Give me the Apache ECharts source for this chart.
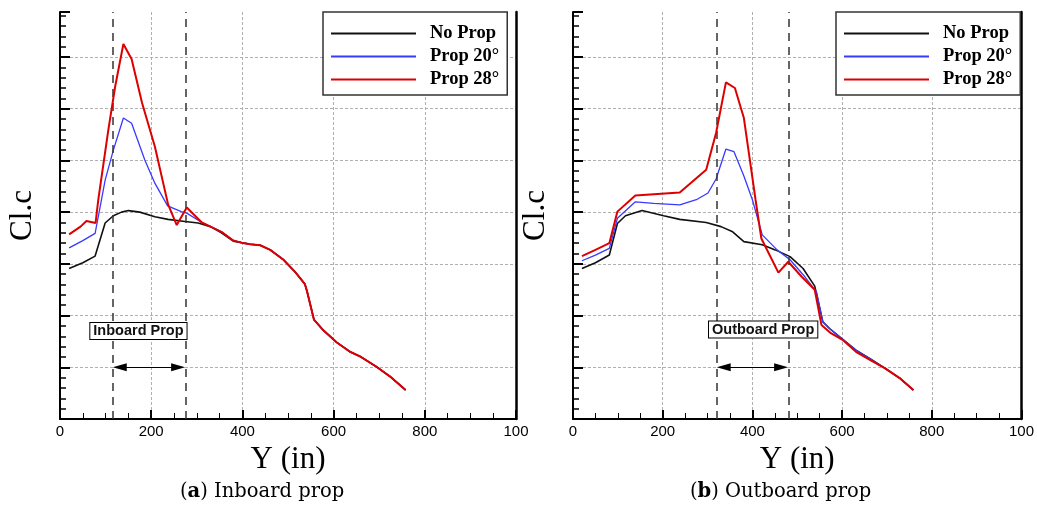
<!DOCTYPE html>
<html><head><meta charset="utf-8">
<script src="https://cdn.jsdelivr.net/npm/echarts@6/dist/echarts.min.js"></script>
<style>html,body{margin:0;padding:0;background:#fff}#c{width:1037px;height:509px}</style>
</head><body><div id="c"></div>
<script>
// ---------- data ----------
const seriesNames = ['No Prop', 'Prop 20°', 'Prop 28°'];
const xTickValues = [0, 200, 400, 600, 800, 1000];

// (a) Inboard prop
const inbNoPropX = [20, 50, 77, 99, 117, 135, 150, 175, 208, 237, 274, 303, 330, 354, 380, 398, 417, 439, 461, 490, 515, 537, 542, 557, 577, 607, 636, 658, 694, 724, 758];
const inbNoPropY = [2.91, 3.02, 3.15, 3.79, 3.93, 4.00, 4.03, 4.00, 3.91, 3.86, 3.82, 3.79, 3.72, 3.60, 3.44, 3.41, 3.38, 3.36, 3.27, 3.08, 2.85, 2.61, 2.46, 1.92, 1.72, 1.48, 1.30, 1.21, 1.01, 0.82, 0.56];
const inbProp20X = [20, 50, 77, 91, 99, 117, 139, 157, 186, 208, 236, 266, 278, 311, 330, 354, 380, 398, 417, 439, 461, 490, 515, 537, 542, 557, 577, 607, 636, 658, 694, 724, 758];
const inbProp20Y = [3.31, 3.45, 3.59, 4.24, 4.62, 5.20, 5.82, 5.72, 5.01, 4.56, 4.12, 4.01, 3.98, 3.80, 3.72, 3.62, 3.45, 3.41, 3.38, 3.36, 3.27, 3.08, 2.85, 2.61, 2.46, 1.92, 1.72, 1.48, 1.30, 1.21, 1.01, 0.82, 0.56];
const inbProp28X = [20, 45, 58, 78, 84, 106, 121, 139, 157, 180, 208, 237, 256, 278, 311, 330, 354, 380, 398, 417, 439, 461, 490, 515, 537, 542, 557, 577, 607, 636, 658, 694, 724, 758];
const inbProp28Y = [3.57, 3.72, 3.83, 3.79, 4.24, 5.59, 6.43, 7.25, 6.96, 6.11, 5.27, 4.15, 3.75, 4.09, 3.80, 3.72, 3.62, 3.45, 3.41, 3.38, 3.36, 3.27, 3.08, 2.85, 2.61, 2.46, 1.92, 1.72, 1.48, 1.30, 1.21, 1.01, 0.82, 0.56];

// (b) Outboard prop
const outNoPropX = [20, 50, 81, 99, 117, 154, 202, 238, 297, 330, 356, 381, 422, 451, 484, 513, 539, 557, 572, 600, 631, 665, 696, 730, 759];
const outNoPropY = [2.91, 3.02, 3.17, 3.78, 3.93, 4.03, 3.93, 3.86, 3.80, 3.72, 3.62, 3.43, 3.37, 3.27, 3.14, 2.91, 2.57, 1.88, 1.75, 1.55, 1.33, 1.15, 0.98, 0.78, 0.56];
const outProp20X = [20, 50, 81, 99, 139, 180, 238, 275, 301, 319, 341, 359, 381, 400, 422, 455, 484, 517, 543, 557, 572, 600, 631, 665, 696, 730, 759];
const outProp20Y = [3.06, 3.17, 3.30, 3.88, 4.20, 4.17, 4.14, 4.24, 4.37, 4.64, 5.22, 5.17, 4.70, 4.24, 3.56, 3.27, 3.08, 2.75, 2.46, 1.88, 1.75, 1.55, 1.33, 1.15, 0.98, 0.78, 0.56];
const outProp28X = [20, 50, 81, 99, 139, 238, 297, 319, 341, 361, 381, 407, 420, 458, 480, 510, 539, 554, 575, 601, 631, 665, 696, 730, 759];
const outProp28Y = [3.15, 3.27, 3.40, 4.01, 4.32, 4.38, 4.82, 5.53, 6.51, 6.40, 5.82, 4.24, 3.49, 2.83, 3.04, 2.75, 2.50, 1.82, 1.66, 1.53, 1.30, 1.13, 0.98, 0.78, 0.56];

// propeller spans (x, in)
const inbPropSpan = [115, 275];
const outPropSpan = [320, 480];
const propLabels = ['Inboard Prop', 'Outboard Prop'];
const captions = [['a', 'Inboard prop'], ['b', 'Outboard prop']];

// ---------- chart ----------
const zip = (xs, ys) => xs.map((x, i) => [x, ys[i]]);
const colors = ['#111111', '#3a3aff', '#dd0000'];
const widths = [1.6, 1.3, 2];
const YMAX = 7.87;
const SERIF = '"Liberation Serif", "Times New Roman", serif';
const CAPSERIF = '"DejaVu Serif", "Liberation Serif", serif';
const SANS = '"Liberation Sans", Arial, sans-serif';

function xAxisFor(gi) {
  return {
    type: 'value', gridIndex: gi, min: 0, max: 1000, interval: 200,
    name: 'Y (in)', nameLocation: 'middle', nameGap: 20,
    nameTextStyle: { fontFamily: SERIF, fontSize: 31, color: '#000' },
    axisLine: { onZero: false, lineStyle: { color: '#000', width: 2 } },
    axisTick: { inside: true, length: 9, lineStyle: { color: '#000', width: 2 } },
    minorTick: { show: true, splitNumber: 4, length: 6, lineStyle: { color: '#000', width: 1 } },
    axisLabel: { margin: 5, fontFamily: SANS, fontSize: 15, color: '#000',
      formatter: v => (v === 1000 ? '100' : String(v)) },
    splitLine: { show: true, lineStyle: { color: '#b0b0b0', type: [3, 2], width: 1 } }
  };
}
function yAxisFor(gi) {
  return {
    type: 'value', gridIndex: gi, min: 0, max: YMAX, interval: 1,
    name: 'Cl.c', nameLocation: 'middle', nameGap: 22, nameRotate: 90,
    nameTextStyle: { fontFamily: SERIF, fontSize: 31, color: '#000' },
    axisLine: { show: true, onZero: false, lineStyle: { color: '#000', width: 2 } },
    axisTick: { inside: true, length: 10, lineStyle: { color: '#000', width: 2 } },
    minorTick: { show: true, splitNumber: 5, length: 6, lineStyle: { color: '#000', width: 1.5 } },
    axisLabel: { show: false },
    splitLine: { show: true, showMaxLine: false, lineStyle: { color: '#b0b0b0', type: [3, 2], width: 1 } }
  };
}
function rightAxisFor(gi) {
  return {
    type: 'value', gridIndex: gi, min: 0, max: YMAX, position: 'right',
    axisLine: { show: true, onZero: false, lineStyle: { color: '#000', width: 2.5 } },
    axisTick: { show: false }, axisLabel: { show: false }, splitLine: { show: false }
  };
}

const panels = [
  { xs: [inbNoPropX, inbProp20X, inbProp28X], ys: [inbNoPropY, inbProp20Y, inbProp28Y], span: inbPropSpan, labelAt: [172, 1.70] },
  { xs: [outNoPropX, outProp20X, outProp28X], ys: [outNoPropY, outProp20Y, outProp28Y], span: outPropSpan, labelAt: [424, 1.73] }
];

const series = [];
panels.forEach((p, gi) => {
  seriesNames.forEach((name, si) => {
    const s = {
      type: 'line', name, xAxisIndex: gi, yAxisIndex: gi * 2,
      data: zip(p.xs[si], p.ys[si]), symbol: 'none', showSymbol: false, silent: true,
      color: colors[si], lineStyle: { color: colors[si], width: widths[si] }, z: 3 + si
    };
    if (si === 0) {
      s.markLine = {
        silent: true, symbol: 'none', animation: false,
        label: { show: false },
        lineStyle: { color: '#333', type: [8, 6], width: 1.5 },
        data: [
          { xAxis: p.span[0] }, { xAxis: p.span[1] },
          [
            { coord: [p.span[0] + 16, 1], symbol: 'triangle', symbolSize: [8, 14],
              lineStyle: { color: '#000', type: 'solid', width: 1 } },
            { coord: [p.span[1] - 16, 1], symbol: 'triangle', symbolSize: [8, 14] }
          ]
        ]
      };
      s.markPoint = {
        silent: true, symbol: 'rect', symbolSize: 0, animation: false,
        data: [{ coord: p.labelAt, value: propLabels[gi] }],
        label: {
          show: true, position: 'inside', formatter: propLabels[gi],
          fontFamily: SANS, fontSize: 14.5, fontWeight: 'bold', color: '#111',
          backgroundColor: '#fff', borderColor: '#000', borderWidth: 1, padding: [1, 3, 0, 3]
        }
      };
    }
    series.push(s);
  });
});

function legendFor(left) {
  return {
    orient: 'vertical', left, top: 12, icon: 'rect', itemWidth: 85, itemHeight: 2, itemGap: 4,
    padding: [12, 8, 6, 8], backgroundColor: '#fff', borderColor: '#333', borderWidth: 1.5,
    selectedMode: false, data: seriesNames,
    textStyle: { fontFamily: SERIF, fontSize: 18.5, fontWeight: 'bold', color: '#000', lineHeight: 18, padding: [0, 0, 0, 9] }
  };
}

const capRich = {
  p: { fontFamily: CAPSERIF, fontSize: 19.5, fontWeight: 'normal', color: '#000' },
  b: { fontFamily: CAPSERIF, fontSize: 19.5, fontWeight: 'bold', color: '#000' }
};

const option = {
  animation: false,
  backgroundColor: '#fff',
  grid: [
    { left: 60, top: 12, width: 456, height: 407 },
    { left: 573, top: 12, width: 455, height: 407 }
  ],
  xAxis: [xAxisFor(0), xAxisFor(1)],
  yAxis: [yAxisFor(0), rightAxisFor(0), yAxisFor(1), rightAxisFor(1)],
  legend: [legendFor(323), legendFor(836)],
  title: captions.map((c, i) => ({
    left: i === 0 ? 180 : 690, top: 482, padding: 0,
    text: '{p|(}{b|' + c[0] + '}{p|) ' + c[1] + '}',
    textStyle: { fontWeight: 'normal', rich: capRich }
  })),
  series
};

const chart = echarts.init(document.getElementById('c'), null, { renderer: 'canvas' });
chart.setOption(option);
</script>
</body></html>
